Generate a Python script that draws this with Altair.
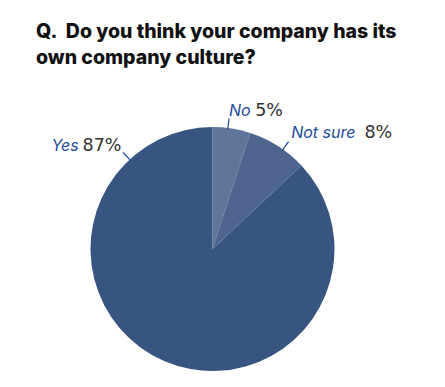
import altair as alt
import pandas as pd

# ---- data ----
categories = ["No", "Not sure", "Yes"]
values = [5, 8, 87]
pct_labels = ["5%", "8%", "87%"]
slice_order = [1, 2, 3]

# ---- layout (label anchor angle in the same % units as the pie) ----
leader_pos = [2.0, 9.8, 88.1]
colors = ["#5f7599", "#4d658e", "#385480"]
label_blue = "#1f4c9b"
pct_gray = "#333333"
FONT = "Inter"

df = pd.DataFrame({
    "category": categories,
    "value": values,
    "pct": pct_labels,
    "order": slice_order,
    "leader": leader_pos,
})

theta_scale = alt.Scale(domain=[0, 100])
base = alt.Chart(df)

pie = base.transform_window(
    cum="sum(value)", sort=[alt.SortField("order")]
).transform_calculate(
    start="datum.cum - datum.value"
).mark_arc(radius=122, stroke=None).encode(
    theta=alt.Theta("start:Q", scale=theta_scale),
    theta2="cum:Q",
    color=alt.Color("category:N", scale=alt.Scale(domain=categories, range=colors), legend=None),
)

leaders = base.transform_calculate(
    leader2="datum.leader + 0.02"
).mark_arc(filled=False, color=label_blue, strokeWidth=1.1).encode(
    theta=alt.Theta("leader:Q", scale=theta_scale),
    theta2="leader2:Q",
    radius=alt.value(121),
    radius2=alt.value(131),
)

# per-label text offsets relative to the leader end
offsets = {
    "No": dict(cat_dx=0, pct_dx=54, dy=-3),
    "Not sure": dict(cat_dx=3, pct_dx=104, dy=-4),
    "Yes": dict(cat_dx=-72, pct_dx=-2, dy=-2),
}

text_layers = []
for cat in categories:
    o = offsets[cat]
    sub = base.transform_filter(alt.datum.category == cat)
    enc = dict(theta=alt.Theta("leader:Q", scale=theta_scale), radius=alt.value(131))
    text_layers.append(
        sub.mark_text(align="left", baseline="alphabetic", dx=o["cat_dx"], dy=o["dy"],
                      font=FONT, fontSize=16, fontStyle="italic", color=label_blue).encode(
            text="category:N", **enc)
    )
    text_layers.append(
        sub.mark_text(align="right", baseline="alphabetic", dx=o["pct_dx"], dy=o["dy"],
                      font="DejaVu Sans", fontSize=17.5, color=pct_gray).encode(
            text="pct:N", **enc)
    )

chart = alt.layer(pie, leaders, *text_layers).properties(
    width=425,
    height=276,
    padding={"left": 0, "top": 111, "right": 20, "bottom": 0},
    autosize=alt.AutoSizeParams(type="none"),
    title=alt.Title(
        text=["Q.\u00a0 Do you think your company has its", "own company culture?"],
        anchor="start", frame="group", dx=36, offset=19,
        font=FONT, fontSize=19.5, fontWeight=800, color="#111111",
        lineHeight=26, baseline="alphabetic",
    ),
).configure_view(stroke=None)

chart.save("out.html", embed_options={"renderer": "svg", "actions": False})
